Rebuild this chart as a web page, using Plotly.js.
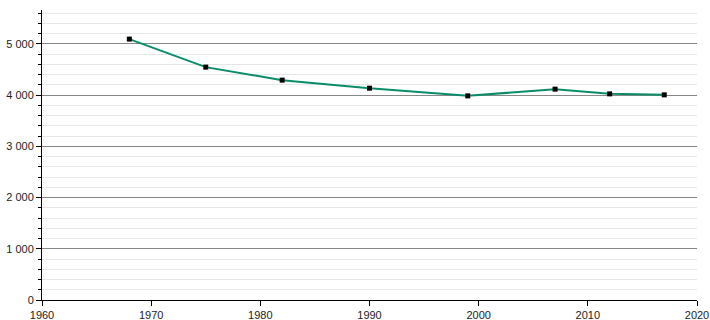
<!DOCTYPE html>
<html><head><meta charset="utf-8">
<script src="https://cdn.plot.ly/plotly-3.0.1.min.js"></script>
<style>html,body{margin:0;padding:0;background:#fff}#chart{width:710px;height:320px}</style>
</head><body><div id="chart"></div>
<script>
var years = [1968, 1975, 1982, 1990, 1999, 2007, 2012, 2017];
var population = [5092, 4545, 4291, 4134, 3984, 4115, 4023, 4004];
var xTicks = [1960, 1970, 1980, 1990, 2000, 2010, 2020];

Plotly.newPlot('chart', [{
  x: years, y: population, type: 'scatter', mode: 'lines+markers',
  line: {color: '#0a8c6a', width: 2},
  marker: {symbol: 'square', size: 5, color: '#000'},
  hoverinfo: 'x+y'
}], {
  width: 710, height: 320,
  margin: {l: 42, r: 13, t: 10, b: 20},
  paper_bgcolor: '#fff', plot_bgcolor: '#fff',
  separators: '. ',
  showlegend: false,
  font: {family: 'Liberation Sans, Arial, sans-serif', size: 11, color: '#222'},
  xaxis: {
    range: [1960, 2020], tickvals: xTicks, ticks: 'outside', ticklen: 5, tickcolor: '#000',
    showgrid: false, zeroline: false, showline: true, linecolor: '#000', linewidth: 1
  },
  yaxis: {
    range: [0, 5660], dtick: 1000, tickformat: ',d', ticks: 'outside', ticklen: 5, tickcolor: '#000',
    showgrid: true, gridcolor: '#888', gridwidth: 1,
    zeroline: false, showline: true, linecolor: '#000', linewidth: 1,
    minor: {dtick: 200, ticks: 'outside', ticklen: 3, tickcolor: '#000', showgrid: true, gridcolor: '#e6e6e6', gridwidth: 1}
  }
}, {staticPlot: true});
</script></body></html>
